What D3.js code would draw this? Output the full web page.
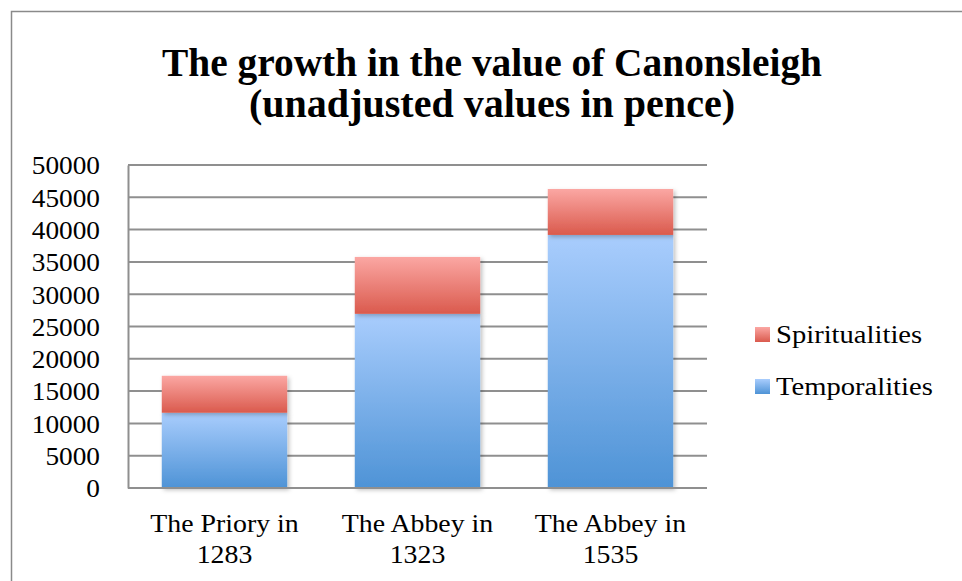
<!DOCTYPE html>
<html>
<head>
<meta charset="utf-8">
<script src="https://cdn.jsdelivr.net/npm/d3@7"></script>
<style>
  body { margin: 0; background: #fff; }
  svg { display: block; font-family: "Liberation Serif", "DejaVu Serif", serif; }
</style>
</head>
<body>
<script>

// Data
var categories = ["The Priory in|1283", "The Abbey in|1323", "The Abbey in|1535"];
var temporalities = [11650, 26960, 39175];
var spiritualities = [5720, 8810, 7115];
var seriesNames = ["Spiritualities", "Temporalities"];
var yTicks = [0, 5000, 10000, 15000, 20000, 25000, 30000, 35000, 40000, 45000, 50000];
var titleLines = ["The growth in the value of Canonsleigh", "(unadjusted values in pence)"];

var width = 962, height = 581;
var plot = { left: 128, right: 707, top: 165, bottom: 488 };

var svg = d3.select("body")
  .append("svg")
  .attr("width", width)
  .attr("height", height);

var defs = svg.append("defs");

var makeGradient = function(id, top, bottom) {
  var g = defs.append("linearGradient")
    .attr("id", id)
    .attr("x1", 0).attr("y1", 0)
    .attr("x2", 0).attr("y2", 1);
  g.append("stop").attr("offset", "0%").attr("stop-color", top);
  g.append("stop").attr("offset", "100%").attr("stop-color", bottom);
};
makeGradient("grad-temp", "#a9cdfd", "#4e93d6");
makeGradient("grad-spir", "#fba7a3", "#da5a4d");

defs.append("filter")
  .attr("id", "shadow")
  .attr("x", "-10%").attr("y", "-10%")
  .attr("width", "130%").attr("height", "130%")
  .append("feDropShadow")
  .attr("dx", 2).attr("dy", 2)
  .attr("stdDeviation", 2)
  .attr("flood-color", "#000")
  .attr("flood-opacity", 0.25);

// stretch text a little, Cambria is wider than Liberation Serif
var widen = function(sel, factor) {
  sel.each(function() {
    var len = this.getComputedTextLength();
    d3.select(this)
      .attr("textLength", len * factor)
      .attr("lengthAdjust", "spacingAndGlyphs");
  });
};

// outer frame
svg.append("rect")
  .attr("x", 11.5).attr("y", 11.5)
  .attr("width", width + 20).attr("height", height + 20)
  .attr("fill", "none")
  .attr("stroke", "#8a8a8a")
  .attr("stroke-width", 1.5);

// title
svg.selectAll(".title")
  .data(titleLines)
  .enter()
  .append("text")
  .attr("class", "title")
  .attr("x", 492)
  .attr("y", function(d, i) { return 76 + i * 41; })
  .attr("text-anchor", "middle")
  .attr("font-size", 40)
  .attr("font-weight", "bold")
  .attr("textLength", function(d, i) { return i == 0 ? 660 : 486; })
  .attr("lengthAdjust", "spacingAndGlyphs")
  .attr("fill", "#000")
  .text(function(d) { return d; });

var x = d3.scaleBand()
  .domain(categories)
  .range([plot.left, plot.right])
  .paddingInner(0.35)
  .paddingOuter(0.175);

var y = d3.scaleLinear()
  .domain([0, 50000])
  .range([plot.bottom, plot.top]);

// gridlines
svg.append("g")
  .selectAll("line")
  .data(yTicks)
  .enter()
  .append("line")
  .attr("x1", plot.left)
  .attr("x2", plot.right)
  .attr("y1", function(d) { return y(d); })
  .attr("y2", function(d) { return y(d); })
  .attr("stroke", "#8f8f8f")
  .attr("stroke-width", 2);

// y axis
var yAxis = svg.append("g")
  .attr("transform", "translate(" + plot.left + ",0)")
  .call(d3.axisLeft(y).tickValues(yTicks).tickSize(0).tickPadding(28).tickFormat(d3.format("d")));
yAxis.select(".domain")
  .attr("stroke", "#8f8f8f")
  .attr("stroke-width", 2);
yAxis.selectAll("text")
  .attr("font-family", "Liberation Serif, serif")
  .attr("font-size", 26)
  .attr("fill", "#000")
  .attr("dy", "0.34em")
  .call(widen, 1.05);

// stacked bars
var stackData = categories.map(function(c, i) {
  return { cat: c, Temporalities: temporalities[i], Spiritualities: spiritualities[i] };
});
var series = d3.stack().keys(["Temporalities", "Spiritualities"])(stackData);

var fills = { Temporalities: "url(#grad-temp)", Spiritualities: "url(#grad-spir)" };

svg.append("g")
  .selectAll("g")
  .data(series)
  .enter()
  .append("g")
  .attr("fill", function(s) { return fills[s.key]; })
  .attr("filter", "url(#shadow)")
  .selectAll("rect")
  .data(function(s) { return s; })
  .enter()
  .append("rect")
  .attr("x", function(d) { return x(d.data.cat); })
  .attr("width", x.bandwidth())
  .attr("y", function(d) { return y(d[1]); })
  .attr("height", function(d) { return y(d[0]) - y(d[1]); });

// x axis line
svg.append("line")
  .attr("x1", plot.left).attr("x2", plot.right)
  .attr("y1", y(0)).attr("y2", y(0))
  .attr("stroke", "#8f8f8f")
  .attr("stroke-width", 2);

// category labels
var catLabels = svg.append("g")
  .selectAll("text")
  .data(categories)
  .enter()
  .append("text")
  .attr("x", function(d) { return x(d) + x.bandwidth() / 2; })
  .attr("y", 532)
  .attr("text-anchor", "middle")
  .attr("font-size", 26)
  .attr("fill", "#000");
catLabels.selectAll("tspan")
  .data(function(d) { return d.split("|"); })
  .enter()
  .append("tspan")
  .attr("x", function() { return d3.select(this.parentNode).attr("x"); })
  .attr("dy", function(d, i) { return i == 0 ? 0 : 31; })
  .text(function(d) { return d; })
  .call(widen, 1.07);

// legend
var legendColors = { Spiritualities: "url(#grad-spir)", Temporalities: "url(#grad-temp)" };
var legend = svg.append("g")
  .selectAll("g")
  .data(seriesNames)
  .enter()
  .append("g")
  .attr("transform", function(d, i) { return "translate(755," + (327 + i * 52) + ")"; });
legend.append("rect")
  .attr("width", 15).attr("height", 15)
  .attr("fill", function(d) { return legendColors[d]; });
legend.append("text")
  .attr("x", 21)
  .attr("y", 16)
  .attr("font-size", 26)
  .attr("fill", "#000")
  .text(function(d) { return d; })
  .call(widen, 1.1);

</script>
</body>
</html>
